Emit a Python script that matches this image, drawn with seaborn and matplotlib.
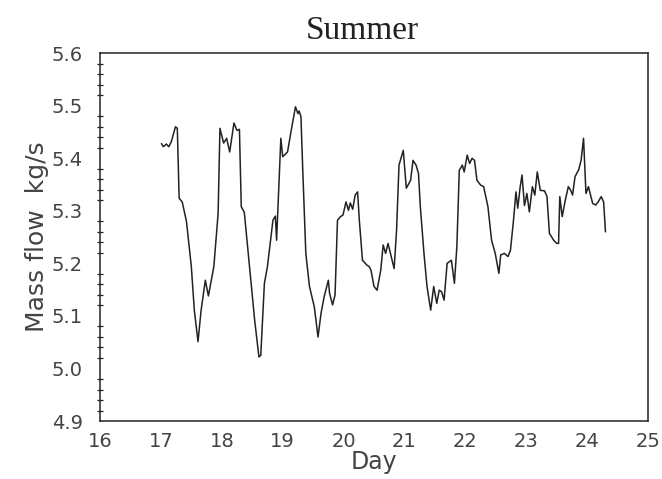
import numpy as np
import pandas as pd
import matplotlib
matplotlib.use("Agg")
import matplotlib.pyplot as plt
from matplotlib.ticker import MultipleLocator, FormatStrFormatter
import seaborn as sns

# Valores (dia, caudal masico kg/s)
day = [17.01, 17.04, 17.09, 17.13, 17.17, 17.24, 17.27, 17.30, 17.35, 17.42,
       17.50, 17.55, 17.61, 17.66, 17.73, 17.78, 17.87, 17.94, 17.97, 18.03,
       18.08, 18.13, 18.20, 18.25, 18.29, 18.32, 18.37, 18.45, 18.54, 18.61,
       18.64, 18.70, 18.75, 18.84, 18.88, 18.90, 18.97, 19.00, 19.08, 19.14,
       19.21, 19.25, 19.27, 19.30, 19.33, 19.38, 19.44, 19.52, 19.58, 19.63,
       19.68, 19.75, 19.77, 19.82, 19.86, 19.90, 19.95, 19.99, 20.04, 20.08,
       20.11, 20.15, 20.19, 20.23, 20.26, 20.31, 20.38, 20.42, 20.45, 20.50,
       20.55, 20.61, 20.65, 20.69, 20.73, 20.77, 20.83, 20.87, 20.91, 20.98,
       21.03, 21.10, 21.14, 21.19, 21.23, 21.26, 21.32, 21.37, 21.43, 21.48,
       21.53, 21.57, 21.61, 21.65, 21.70, 21.77, 21.82, 21.86, 21.90, 21.95,
       21.98, 22.03, 22.07, 22.11, 22.15, 22.19, 22.25, 22.30, 22.37, 22.43,
       22.49, 22.55, 22.58, 22.64, 22.70, 22.74, 22.79, 22.83, 22.86, 22.90,
       22.93, 22.97, 23.01, 23.05, 23.10, 23.14, 23.18, 23.23, 23.30, 23.34,
       23.38, 23.45, 23.50, 23.53, 23.55, 23.59, 23.64, 23.69, 23.73, 23.76,
       23.80, 23.86, 23.90, 23.94, 23.98, 24.02, 24.09, 24.14, 24.18, 24.23,
       24.27, 24.30]
flow = [5.428, 5.422, 5.427, 5.422, 5.431, 5.460, 5.457, 5.324, 5.317, 5.280,
        5.194, 5.110, 5.051, 5.110, 5.168, 5.138, 5.194, 5.295, 5.457, 5.429,
        5.438, 5.412, 5.467, 5.453, 5.455, 5.308, 5.297, 5.200, 5.092, 5.022,
        5.025, 5.162, 5.194, 5.282, 5.290, 5.244, 5.438, 5.403, 5.412, 5.453,
        5.498, 5.485, 5.490, 5.479, 5.377, 5.219, 5.156, 5.117, 5.060, 5.105,
        5.136, 5.168, 5.143, 5.121, 5.140, 5.282, 5.289, 5.292, 5.317, 5.301,
        5.315, 5.303, 5.330, 5.336, 5.280, 5.206, 5.197, 5.194, 5.187, 5.156,
        5.149, 5.187, 5.235, 5.219, 5.238, 5.219, 5.190, 5.263, 5.387, 5.415,
        5.343, 5.358, 5.396, 5.387, 5.371, 5.308, 5.219, 5.156, 5.111, 5.156,
        5.124, 5.149, 5.146, 5.130, 5.200, 5.206, 5.162, 5.232, 5.377, 5.387,
        5.374, 5.406, 5.390, 5.400, 5.396, 5.358, 5.349, 5.346, 5.308, 5.244,
        5.219, 5.181, 5.216, 5.219, 5.213, 5.225, 5.282, 5.336, 5.305, 5.346,
        5.368, 5.310, 5.333, 5.298, 5.346, 5.330, 5.374, 5.339, 5.338, 5.327,
        5.257, 5.244, 5.238, 5.238, 5.327, 5.289, 5.320, 5.346, 5.339, 5.330,
        5.365, 5.378, 5.396, 5.438, 5.333, 5.346, 5.314, 5.311, 5.317, 5.327,
        5.317, 5.260]

df = pd.DataFrame({"Day": day, "Flow": flow})

sns.set_style("white")
plt.rcParams["font.family"] = ["DejaVu Sans"]

fig = plt.figure(figsize=(6.62, 4.79), dpi=100)
ax = fig.add_axes([0.151, 0.121, 0.828, 0.768])

sns.lineplot(data=df, x="Day", y="Flow", sort=False, estimator=None,
             color="#222222", linewidth=1.1, ax=ax)

ax.set_xlim(16, 25)
ax.set_ylim(4.9, 5.6)
ax.xaxis.set_major_locator(MultipleLocator(1))
ax.yaxis.set_major_locator(MultipleLocator(0.1))
ax.yaxis.set_minor_locator(MultipleLocator(0.02))
ax.yaxis.set_major_formatter(FormatStrFormatter("%.1f"))

for s in ax.spines.values():
    s.set_color("#222222")
    s.set_linewidth(1.1)

ax.tick_params(axis="y", which="major", direction="inout", length=9, width=1,
               color="#222222", labelsize=14, labelcolor="#444444", pad=8)
ax.tick_params(axis="y", which="minor", direction="inout", length=5, width=0.9,
               color="#222222", left=True)
ax.tick_params(axis="x", which="major", direction="in", length=6, width=1,
               color="#222222", labelsize=14, labelcolor="#444444", pad=8)

ax.set_xlabel("Day", fontsize=17, color="#444444", labelpad=-1)
ax.set_ylabel("Mass flow  kg/s", fontsize=18, color="#444444", labelpad=2)
ax.set_title("Summer", fontsize=24, family="Liberation Serif", color="#222222",
             pad=10, x=0.478)

fig.savefig("out.png", dpi=100)
